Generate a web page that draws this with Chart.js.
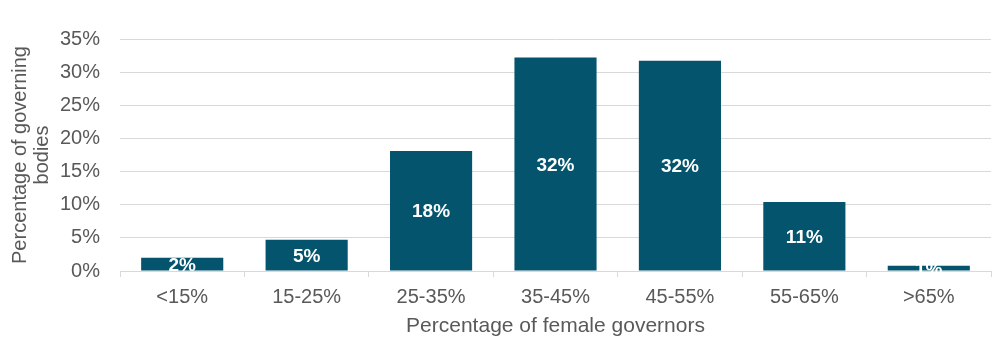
<!DOCTYPE html>
<html>
<head>
<meta charset="utf-8">
<script src="https://cdn.jsdelivr.net/npm/chart.js@4"></script>
<style>
html,body{margin:0;padding:0;background:#fff;}
#wrap{width:1004px;height:356px;}
</style>
</head>
<body>
<div id="wrap"><canvas id="c" width="1004" height="356"></canvas></div>
<script>
const categories = ['<15%', '15-25%', '25-35%', '35-45%', '45-55%', '55-65%', '>65%'];
const values = [2.0, 4.7, 18.1, 32.2, 31.7, 10.4, 0.8];
const valueLabels = ['2%', '5%', '18%', '32%', '32%', '11%', '1%'];
const yTicks = [0, 5, 10, 15, 20, 25, 30, 35];
const xTitle = 'Percentage of female governors';
const yTitle = ['Percentage of governing', 'bodies'];

const FONT = "'Liberation Sans', Arial, sans-serif";
const GREY = '#595959';

const labelPlugin = {
  id: 'barLabels',
  afterDatasetsDraw(chart) {
    const ctx = chart.ctx;
    const meta = chart.getDatasetMeta(0);
    ctx.save();
    ctx.fillStyle = '#ffffff';
    ctx.font = 'bold 19px ' + FONT;
    ctx.textAlign = 'center';
    ctx.textBaseline = 'middle';
    meta.data.forEach((bar, i) => {
      const y = (bar.y + bar.base) / 2;
      ctx.fillText(valueLabels[i], bar.x, y + 1.5);
    });
    ctx.restore();
  }
};

new Chart(document.getElementById('c'), {
  type: 'bar',
  data: {
    labels: categories,
    datasets: [{
      data: values,
      backgroundColor: '#03546C',
      borderWidth: 0,
      barPercentage: 0.66,
      categoryPercentage: 1.0
    }]
  },
  options: {
    responsive: false,
    animation: false,
    devicePixelRatio: 1,
    layout: { padding: { top: 39, right: 13, left: 0, bottom: 0 } },
    plugins: { legend: { display: false }, tooltip: { enabled: false } },
    scales: {
      x: {
        grid: { display: true, drawOnChartArea: false, drawTicks: true, tickLength: 6, color: '#d9d9d9', offset: true },
        border: { display: true, color: '#d9d9d9' },
        ticks: { color: GREY, font: { family: FONT, size: 20 }, padding: 8 },
        title: { display: true, text: xTitle, color: GREY, font: { family: FONT, size: 21 }, padding: { top: 0, bottom: 17 } },
        afterFit(scale) { scale.height = 85; }
      },
      y: {
        min: 0, max: 35,
        afterBuildTicks(scale) { scale.ticks = yTicks.map(v => ({ value: v })); },
        grid: { color: '#d9d9d9', drawTicks: false },
        border: { display: false },
        ticks: { color: GREY, font: { family: FONT, size: 20 }, padding: 20, callback: v => v + '%' },
        title: { display: true, text: yTitle, color: GREY, font: { family: FONT, size: 20, lineHeight: 1.1 }, padding: { top: 9, bottom: 0 } },
        afterFit(scale) { scale.width = 120; }
      }
    }
  },
  plugins: [labelPlugin]
});
</script>
</body>
</html>
